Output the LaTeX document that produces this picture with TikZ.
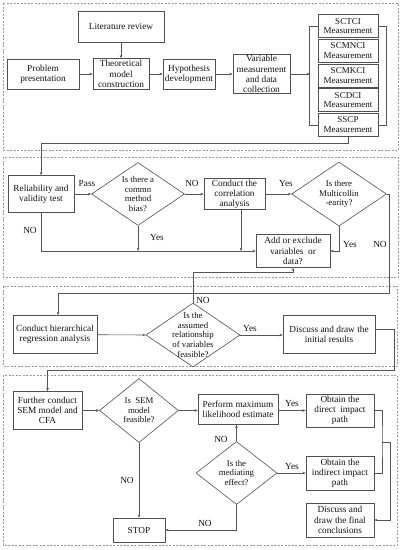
\documentclass[tikz,border=0pt]{standalone}
\usepackage{fontspec}
\setmainfont{Liberation Serif}
\usetikzlibrary{shapes.geometric,arrows.meta}
\definecolor{boxc}{HTML}{505050}
\definecolor{linec}{HTML}{555555}
\definecolor{dashc}{HTML}{9A9A9A}
\definecolor{txtc}{HTML}{111111}
\newcommand\fsz{\fontsize{9.3}{10.2}\selectfont}
\newcommand\fszm{\fontsize{9}{9.8}\selectfont}
\newcommand\fszd{\fontsize{8.8}{9.6}\selectfont}
\tikzset{
  box/.style={draw=boxc, line width=0.6pt, align=center, inner sep=1pt, font=\fsz, text=txtc},
  mbox/.style={box, font=\fszm, inner sep=0pt, minimum width=60pt, minimum height=23pt},
  dia/.style={draw=boxc, diamond, inner sep=0pt, line width=0.6pt},
  dtxt/.style={align=center, font=\fszd, inner sep=0pt, text=txtc},
  conn/.style={draw=linec, line width=0.6pt},
  arr/.style={conn, -{Stealth[length=3.2pt,width=2.6pt]}},
  lab/.style={font=\fsz, inner sep=1pt, text=txtc},
  panel/.style={draw=dashc, dash pattern=on 2pt off 1.5pt, line width=0.5pt}
}
\begin{document}
\begin{tikzpicture}[x=1pt,y=-1pt]
\useasboundingbox (0,0) rectangle (401,550);
% panels
\draw[panel] (3,3) rectangle (398,150);
\draw[panel] (3,157) rectangle (398,277);
\draw[panel] (3,286) rectangle (397,366);
\draw[panel] (3,375) rectangle (397,545);

% ---- panel 1
\node[box, minimum width=86pt, minimum height=31pt] (lit) at (121,26.5) {Literature review};
\node[box, minimum width=72pt, minimum height=30pt] (prob) at (43,74) {Problem\\presentation};
\node[box, minimum width=56pt, minimum height=31pt] (theo) at (121,74) {Theoretical\\model\\construction};
\node[box, minimum width=52pt, minimum height=30pt] (hyp) at (189,74) {Hypothesis\\development};
\node[box, minimum width=57pt, minimum height=39pt] (var) at (261.5,74) {Variable\\measurement\\and data\\collection};
\node[mbox] (m1) at (348,26) {SCTCI\\Measurement};
\node[mbox] (m2) at (348,50.7) {SCMNCI\\Measurement};
\node[mbox] (m3) at (348,75.4) {SCMKCI\\Measurement};
\node[mbox] (m4) at (348,100.1) {SCDCI\\Measurement};
\node[mbox] (m5) at (348,124.8) {SSCP\\Measurement};
\coordinate (bl) at (310,74);
\coordinate (c1) at (41,143);

\draw[arr] (lit) -- (theo);
\draw[arr] (prob) -- (theo);
\draw[arr] (theo) -- (hyp);
\draw[arr] (hyp) -- (var);
\draw[arr] (var) -- (bl);
\draw[conn] (m1.west) -- ++(-8,0) |- (m5.west);
\draw[conn] (m1.east) -- ++(8,0) |- (m5.east);

% ---- panel 2
\node[box, minimum width=66pt, minimum height=37pt] (rel) at (41,194) {Reliability and\\validity test};
\node[dia, minimum width=93pt, minimum height=63pt] (d1) at (138,194) {};
\node[dtxt] (d1t) at (d1) {Is there a\\commn\\method\\bias?};
\node[box, minimum width=61pt, minimum height=31pt] (corr) at (234.5,194) {Conduct the\\correlation\\analysis};
\node[dia, minimum width=95pt, minimum height=64pt] (d2) at (339,194) {};
\node[dtxt] (d2t) at (d2) {Is there\\Multicollin\\-earity?};
\node[box, minimum width=74pt, minimum height=33pt] (add) at (293,251) {Add or exclude\\variables~~or\\data?};

\draw[arr] (m5.south) |- (c1) -- (rel.north);
\draw[arr] (rel) -- (d1);
\draw[arr] (d1) -- (corr);
\draw[arr] (corr) -- (d2);
\draw[arr] (rel.south) |- (add.west);
\draw[arr] (d1.south) -- (d1.south |- add.west);
\draw[arr] ([xshift=6.5pt]corr.south) -- ([xshift=6.5pt]corr.south |- add.west);
\draw[arr] (d2.south) |- (add.east);

\node[lab] (lpass) at (87,183) {Pass};
\node[lab] (lno1) at (192,183) {NO};
\node[lab] (lyes1) at (286,183) {Yes};
\node[lab] (lno2) at (30,230) {NO};
\node[lab] (lyes2) at (157,237) {Yes};
\node[lab] (lyes3) at (350,244) {Yes};
\node[lab] (lno3) at (380,244) {NO};

% ---- panel 3
\node[box, minimum width=84pt, minimum height=38pt] (hier) at (55,334.5) {Conduct hierarchical\\regression analysis};
\node[dia, minimum width=94pt, minimum height=64pt] (d3) at (193,335) {};
\node[dtxt] (d3t) at (d3) {Is the\\assumed\\relationship\\of variables\\feasible?};
\node[box, minimum width=92pt, minimum height=38pt] (disc) at (329,334.5) {Discuss and draw the\\initial results};
\coordinate (c2) at (389,293);
\coordinate (c3) at (193,272);
\coordinate (c4) at (394,370);

\draw[arr] (d2.east) -- (d2.east -| c2) -- (c2) -| ([xshift=3pt]hier.north);
\draw[arr] (d3.north) -- (c3) -| (add.south);
\draw[arr] (hier) -- (d3.west);
\draw[arr] (d3.east) -- (d3.east -| disc.west);
\node[lab] (lno4) at (203,300) {NO};
\node[lab] (lyes4) at (250,328) {Yes};

% ---- panel 4
\node[box, minimum width=69pt, minimum height=38pt] (fur) at (47.5,410.5) {Further conduct\\SEM model and\\CFA};
\node[dia, minimum width=79pt, minimum height=64pt] (d4) at (139,410.5) {};
\node[dtxt] (d4t) at (d4) {Is~~SEM\\model\\feasible?};
\node[box, minimum width=80pt, minimum height=30pt] (perf) at (238,409.5) {Perform maximum\\likelihood estimate};
\node[box, minimum width=68pt, minimum height=33pt] (dir) at (340,410.5) {Obtain the\\direct~~impact\\path};
\node[dia, minimum width=81pt, minimum height=63pt] (d5) at (236.5,473) {};
\node[dtxt] (d5t) at (d5) {Is the\\mediating\\effect?};
\node[box, minimum width=68pt, minimum height=34pt] (ind) at (340,473) {Obtain the\\indirect impact\\path};
\node[box, minimum width=68pt, minimum height=34pt] (fin) at (340,520) {Discuss and\\draw the final\\conclusions};
\node[box, minimum width=52pt, minimum height=24pt] (stop) at (139,530) {STOP};
\coordinate (c5) at (382,442);
\coordinate (c6) at (390,442);

\draw[arr] ([yshift=5pt]disc.east) -| (c4) -| (fur.north);
\draw[arr] (fur) -- (d4);
\draw[arr] (d4.east) -- (d4.east -| perf.west);
\draw[arr] (dir.west -| perf.east) -- (dir.west);
\draw[arr] (d5.north) -- (d5.north |- perf.south);
\draw[arr] (d5.east) -- (ind.west);
\draw[conn] (dir.east) -| (c5) |- (ind.east);
\draw[arr] (c5) -- (c6) |- (fin.east);
\draw[arr] (d4.south) -- (stop.north);
\draw[arr] (d5.south) |- (stop.east);

\node[lab] (lyes5) at (292,403) {Yes};
\node[lab] (lno5) at (221,439) {NO};
\node[lab] (lyes6) at (292,466) {Yes};
\node[lab] (lno6) at (127,480) {NO};
\node[lab] (lno7) at (205,523) {NO};
\end{tikzpicture}
\end{document}
